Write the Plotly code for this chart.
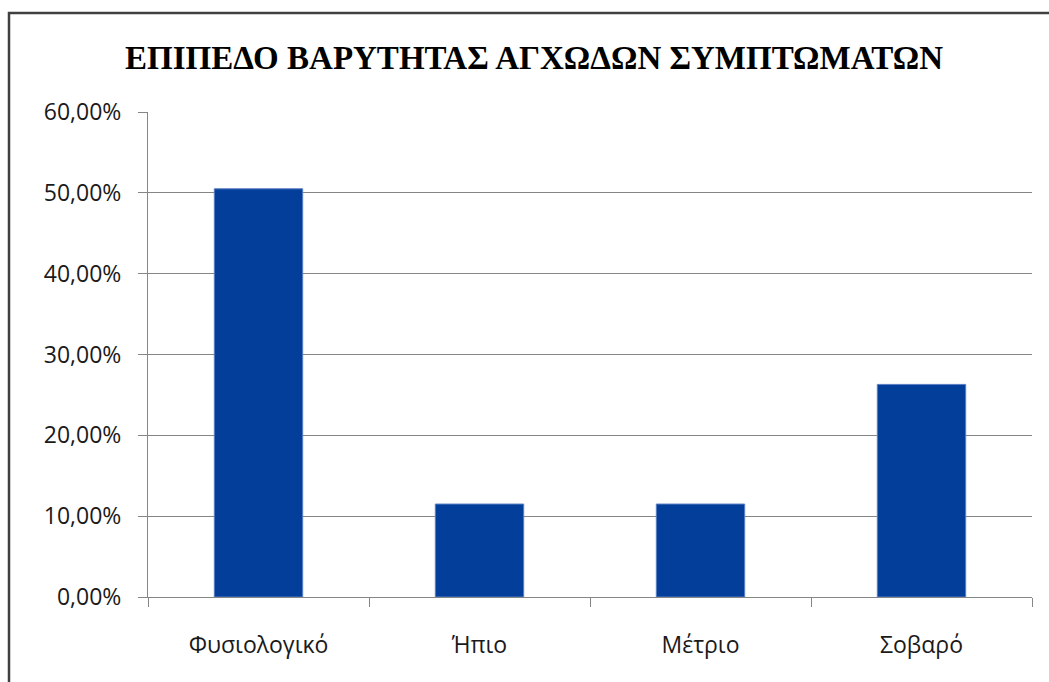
import plotly.graph_objects as go

categories = ["Φυσιολογικό", "Ήπιο", "Μέτριο", "Σοβαρό"]
values = [0.505, 0.115, 0.115, 0.263]
y_ticks = [0, 0.1, 0.2, 0.3, 0.4, 0.5, 0.6]

W, H = 1049, 682
L, R, T, B = 148, 1032, 112, 597
pw, ph = R - L, B - T

fig = go.Figure(go.Bar(
    x=categories, y=values, width=0.4,
    marker=dict(color="#023E9A", line=dict(color="#5B7FC4", width=1)),
))

fig.update_layout(
    width=W, height=H,
    margin=dict(l=L, r=W - R, t=T, b=H - B),
    paper_bgcolor="white", plot_bgcolor="white",
    separators=",.",
    showlegend=False,
    title=dict(text="<b>ΕΠΙΠΕΔΟ ΒΑΡΥΤΗΤΑΣ ΑΓΧΩΔΩΝ ΣΥΜΠΤΩΜΑΤΩΝ</b>",
               font=dict(family="Liberation Serif", size=33, color="black"),
               xref="container", x=534 / W, xanchor="center",
               yref="container", y=1 - 57 / H, yanchor="middle"),
    font=dict(family="Open Sans", size=23, color="#1a1a1a"),
    xaxis=dict(type="category", showline=True, linecolor="#868686", linewidth=1,
               ticks="outside", ticklen=9, tickcolor="#868686", tickson="boundaries",
               showgrid=False, tickfont=dict(size=23, color="#1a1a1a"),
               ticklabelstandoff=27),
    yaxis=dict(range=[0, 0.6], tickvals=y_ticks, tickformat=".2%",
               showline=True, linecolor="#868686", linewidth=1,
               ticks="outside", ticklen=9, tickcolor="#868686",
               showgrid=True, gridcolor="#868686", gridwidth=1,
               zeroline=False, tickfont=dict(size=23, color="#1a1a1a"),
               ticklabelstandoff=12),
    shapes=[dict(type="rect", xref="paper", yref="paper",
                 x0=(9 - L) / pw, x1=(1060 - L) / pw,
                 y0=1 - (700 - T) / ph, y1=1 + (T - 13) / ph,
                 line=dict(color="#404040", width=2.5), layer="below")],
)

fig.write_html("out.html")
